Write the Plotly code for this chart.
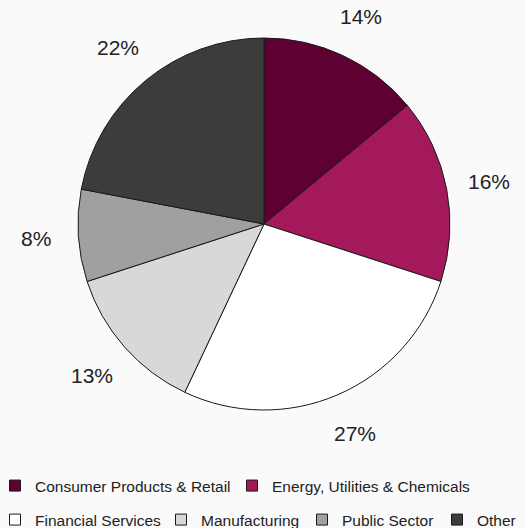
import math
import plotly.graph_objects as go

# Sector shares (percent), clockwise from 12 o'clock
sectors = [
    "Consumer Products & Retail",
    "Energy, Utilities & Chemicals",
    "Financial Services",
    "Manufacturing",
    "Public Sector",
    "Other",
]
shares = [14, 16, 27, 13, 8, 22]
colors = ["#5e0032", "#a3195b", "#ffffff", "#d8d8d8", "#a0a09e", "#3c3c3b"]

W, H = 525, 528
BG = "#fafafa"
TEXT = "#222222"
FONT = "Liberation Sans, Arial, Helvetica, sans-serif"

# Pie geometry (pixels)
cx, cy, R = 264, 224, 186
dom_x = [(cx - R) / W, (cx + R) / W]
dom_y = [1 - (cy + R) / H, 1 - (cy - R) / H]

fig = go.Figure()
fig.add_trace(go.Pie(
    labels=sectors,
    values=shares,
    sort=False,
    direction="clockwise",
    rotation=0,
    marker=dict(colors=colors, line=dict(color="#1a1a1a", width=1)),
    textinfo="none",
    hoverinfo="label+percent",
    showlegend=False,
    domain=dict(x=dom_x, y=dom_y),
))

# Percentage labels placed outside each slice at its mid-angle
total = sum(shares)
label_r = 1.23 * R
cum = 0
annotations = []
for v in shares:
    mid = (cum + v / 2) / total * 2 * math.pi
    cum += v
    px = cx + label_r * math.sin(mid)
    py = cy - label_r * math.cos(mid)
    annotations.append(dict(
        x=px / W, y=1 - py / H, xref="paper", yref="paper",
        text=f"{v}%", showarrow=False,
        xanchor="center", yanchor="middle",
        font=dict(size=21, color=TEXT, family=FONT),
    ))

# Legend: one legend box per entry, laid out in two rows
# (symbol centre x, row centre y) in pixels
legend_slots = [(19, 486), (256, 486), (19, 520), (185, 520), (326, 520), (461, 520)]

legend_layout = {}
for i, (name, col, (sx, sy)) in enumerate(zip(sectors, colors, legend_slots)):
    key = "legend" if i == 0 else f"legend{i + 1}"
    fig.add_trace(go.Scatter(
        x=[None], y=[None], mode="markers", name=name, legend=key,
        marker=dict(symbol="square", size=11, color=col,
                    line=dict(color="#1a1a1a", width=1)),
        hoverinfo="skip",
    ))
    legend_layout[key] = dict(
        x=(sx - 24) / W, y=1 - sy / H,
        xanchor="left", yanchor="middle", orientation="h",
        bgcolor="rgba(0,0,0,0)",
        font=dict(size=15.5, color=TEXT, family=FONT),
        itemclick=False, itemdoubleclick=False,
    )

fig.update_layout(
    width=W, height=H,
    margin=dict(l=0, r=0, t=0, b=0, autoexpand=False),
    paper_bgcolor=BG, plot_bgcolor=BG,
    xaxis=dict(visible=False), yaxis=dict(visible=False),
    annotations=annotations,
    **legend_layout,
)

fig.write_html("out.html")
